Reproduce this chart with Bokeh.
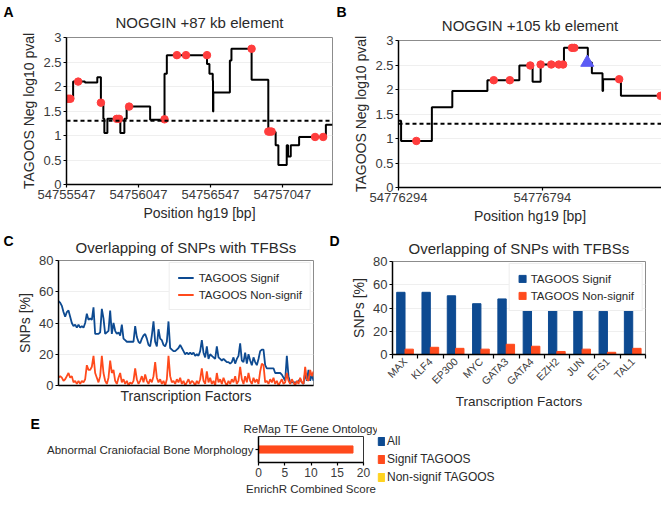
import math
from bokeh.plotting import figure
from bokeh.models import (Range1d, FixedTicker, Title, Legend, Span, CustomJSTickFormatter)
from bokeh.core.properties import value
from bokeh.layouts import column, row
from bokeh.embed import file_html
from bokeh.resources import INLINE

FONT = "Liberation Sans"
BLUE = "#0d4a91"
RED = "#ff4a1c"
YELLOW = "#ffd320"
DOT = "#ff3d3d"
TRI = "#5c5cf5"

# ---------------- Panel A data ----------------
a_step_x = [54755547, 54755593, 54755675, 54755761, 54755786, 54755803, 54755810, 54755831,
            54755921, 54755949, 54755965, 54756128, 54756228, 54756244, 54756523, 54756540,
            54756563, 54756565, 54756567, 54756682, 54756693, 54756833, 54756949, 54757000,
            54757019, 54757077, 54757086, 54757105, 54757163, 54757349, 54757395]
a_step_y = [1.75, 2.10, 2.08, 2.19, 1.67, 1.34, 1.05, 1.34, 1.05, 1.34, 1.59, 1.32, 2.26, 2.64,
            2.46, 2.26, 2.12, 1.49, 1.88, 2.53, 2.77, 2.14, 1.07, 0.80, 0.40, 0.80, 0.57, 0.80,
            0.97, 1.22, 1.22]
a_dot_x = [54755550, 54755562, 54755574, 54755628, 54755786, 54755896, 54755912, 54755982,
           54756228, 54756314, 54756377, 54756523, 54756833, 54756949, 54756960, 54756972,
           54757274, 54757330]
a_dot_y = [1.75, 1.75, 1.75, 2.10, 1.67, 1.34, 1.34, 1.59, 1.33, 2.64, 2.64, 2.64, 2.77,
           1.08, 1.08, 1.08, 0.97, 0.97]
a_ticks = [54755547, 54756047, 54756547, 54757047]
a_xlim = [54755547, 54757395]

# ---------------- Panel B data ----------------
b_step_x = [54776294, 54776303, 54776410, 54776481, 54776603, 54776714, 54776760, 54776788,
            54776869, 54776952, 54776966, 54777003, 54777005, 54777067, 54777208]
b_step_y = [1.36, 0.95, 1.64, 1.97, 2.19, 2.49, 2.16, 2.51, 2.85, 2.55, 2.33, 1.97, 2.21,
            1.87, 1.87]
b_dot_x = [54776356, 54776625, 54776681, 54776752, 54776788, 54776825, 54776851, 54776866,
           54776897, 54776905, 54777061, 54777205]
b_dot_y = [0.95, 2.19, 2.19, 2.49, 2.51, 2.51, 2.51, 2.51, 2.85, 2.85, 2.21, 1.87]
b_tri_x = [54776950]
b_tri_y = [2.55]
b_ticks = [54776294, 54776794]
b_xlim = [54776294, 54777208]

threshold = 1.3
pval_ticks = [0, 0.5, 1, 1.5, 2, 2.5, 3]

# ---------------- Panel C data ----------------
c_signif = [54, 53, 51, 47, 44, 47, 48, 44, 40, 38, 39, 37, 39, 37, 38, 37, 40, 46, 42, 43,
            42, 50, 33, 33, 33, 34, 49, 43, 33, 34, 35, 48, 33, 40, 35, 33, 34, 32, 39, 30,
            29, 28, 28, 28, 28, 28, 38, 31, 28, 27, 30, 32, 33, 30, 26, 25, 32, 41, 28, 25,
            36, 30, 29, 26, 25, 28, 41, 24, 23, 22, 22, 23, 24, 26, 24, 22, 20, 21, 20, 21,
            20, 21, 19, 20, 19, 22, 29, 21, 18, 25, 17, 20, 19, 18, 17, 25, 18, 17, 16, 17,
            16, 15, 15, 14, 15, 18, 14, 17, 19, 27, 16, 15, 21, 14, 20, 16, 13, 18, 15, 13,
            17, 22, 23, 23, 13, 11, 11, 11, 11, 11, 8, 8, 8, 8, 7, 5, 3, 19, 6, 2,
            2, 2, 2, 2, 3, 4, 2, 1, 8, 3, 10, 3, 7, 3]
c_nonsignif = [5, 6, 5, 3, 4, 6, 8, 5, 6, 2, 3, 1, 3, 1, 3, 2, 4, 13, 10, 10,
               12, 19, 8, 5, 2, 6, 19, 8, 3, 1, 5, 16, 8, 10, 3, 1, 5, 8, 2, 4,
               1, 3, 0, 2, 1, 3, 11, 4, 1, 3, 6, 2, 7, 3, 1, 4, 2, 6, 15, 5,
               2, 4, 1, 3, 0, 4, 19, 6, 2, 3, 1, 4, 2, 5, 1, 3, 0, 2, 4, 1,
               3, 2, 0, 3, 1, 4, 11, 3, 1, 9, 2, 5, 1, 3, 0, 8, 2, 4, 1, 5,
               2, 0, 3, 1, 4, 2, 6, 1, 3, 12, 4, 1, 6, 2, 8, 3, 1, 5, 2, 4,
               1, 9, 14, 13, 2, 3, 1, 4, 2, 5, 1, 3, 0, 2, 4, 1, 2, 8, 3, 1,
               4, 2, 0, 3, 1, 5, 2, 1, 12, 4, 3, 10, 6, 9]

# ---------------- Panel D data ----------------
d_tfs = ["MAX", "KLF4", "EP300", "MYC", "GATA3", "GATA4", "EZH2", "JUN", "ETS1", "TAL1"]
d_signif = [53.5, 53.5, 50.5, 43.7, 47.8, 43.7, 38.3, 39.7, 37.1, 39.7]
d_nonsignif = [4.6, 6.2, 5.3, 4.6, 8.8, 7.1, 2.6, 4.6, 1.9, 5.3]
snp_ticks = [0, 20, 40, 60, 80]

# ---------------- Panel E data ----------------
e_term = "Abnormal Craniofacial Bone Morphology"
e_series = ["All", "Signif TAGOOS", "Non-signif TAGOOS"]
e_all = [0.0]
e_signif = [18.0]
e_nonsignif = [0.0]
e_ticks = [0, 5, 10, 15, 20]

panel_letters = ["A", "B", "C", "D", "E"]

COMMON = dict(output_backend="svg", toolbar_location=None, title=None, frame_align=False)


def style(p):
    p.outline_line_color = "#8c8c8c"
    p.outline_line_width = 1
    p.background_fill_color = "white"
    p.border_fill_color = "white"
    for ax in p.axis:
        ax.axis_line_color = "black"
        ax.axis_line_width = 1.5
        ax.major_tick_line_color = "black"
        ax.major_tick_line_width = 1.2
        ax.major_tick_out = 3
        ax.major_tick_in = 0
        ax.minor_tick_line_color = None
        ax.major_label_text_font = FONT
        ax.major_label_text_font_size = "13px"
        ax.major_label_text_color = "#3a3a3a"
        ax.axis_label_text_font = FONT
        ax.axis_label_text_font_size = "14px"
        ax.axis_label_text_font_style = "normal"
        ax.axis_label_text_color = "#2a2a2a"
        ax.major_label_standoff = 2
        ax.axis_label_standoff = 3
    p.xgrid.grid_line_color = None
    p.ygrid.grid_line_color = "#efefef"


def add_title(p, text, standoff, size="15px"):
    t = Title(text=text, align="center", text_font=FONT, text_font_size=size,
              text_font_style="normal", text_color="#2a2a2a", standoff=standoff)
    p.add_layout(t, "above")


def blank_fig(w, h):
    f = figure(width=w, height=h, x_range=Range1d(0, w), y_range=Range1d(0, h),
               x_axis_location=None, y_axis_location=None,
               min_border=0, min_border_left=0, min_border_right=0,
               min_border_top=0, min_border_bottom=0, **COMMON)
    f.outline_line_color = None
    f.xgrid.visible = False
    f.ygrid.visible = False
    return f


def letter_fig(letter, w, h, x, top):
    f = blank_fig(w, h)
    f.text(x=[x], y=[h - top], text=[letter], text_font=value(FONT),
           text_font_size="14px", text_font_style="bold", text_color="black",
           text_baseline="top", text_align="left")
    return f


def pval_panel(bl, br, bt, bb, fw, xlim, ticks, title):
    p = figure(frame_width=fw, frame_height=147, x_range=Range1d(*xlim), y_range=Range1d(0, 3),
               min_border_left=bl, min_border_right=br, min_border_top=bt, min_border_bottom=bb,
               **COMMON)
    style(p)
    add_title(p, title, 14)
    p.xaxis.ticker = FixedTicker(ticks=ticks)
    p.xaxis.formatter = CustomJSTickFormatter(code="return tick.toFixed(0)")
    p.yaxis.ticker = FixedTicker(ticks=pval_ticks)
    p.yaxis.formatter = CustomJSTickFormatter(code="return String(Number(tick.toFixed(2)))")
    p.xaxis.axis_label = "Position hg19 [bp]"
    p.yaxis.axis_label = "TAGOOS Neg log10 pval"
    p.add_layout(Span(location=threshold, dimension="width", line_color="black",
                      line_width=2, line_dash="4 3"))
    return p


# ---------------- Row 1 ----------------
H1 = 227
lA = letter_fig(panel_letters[0], 18, H1, 3, 3)
pA = pval_panel(47, 3, 37, 43, 266, a_xlim, a_ticks, "NOGGIN +87 kb element")
pA.step(a_step_x, a_step_y, mode="after", line_color="black", line_width=2)
pA.scatter(a_dot_x, a_dot_y, size=7.5, color=DOT)

lB = letter_fig(panel_letters[1], 15, H1, 1, 3)
pB = pval_panel(44, 2, 40, 40, 263, b_xlim, b_ticks, "NOGGIN +105 kb element")
pB.step(b_step_x, b_step_y, mode="after", line_color="black", line_width=2)
pB.scatter(b_dot_x, b_dot_y, size=7.5, color=DOT)
pB.scatter(b_tri_x, b_tri_y, marker="triangle", size=13, color=TRI)

# ---------------- Row 2 ----------------
H2 = 186
lC = letter_fig(panel_letters[2], 14, H2, 3, 5)
nC = max(len(c_signif), len(c_nonsignif))
pC = figure(frame_width=255, frame_height=125, x_range=Range1d(0, nC - 1), y_range=Range1d(0, 80),
            min_border_left=44, min_border_right=15, min_border_top=33, min_border_bottom=28,
            **COMMON)
style(pC)
add_title(pC, "Overlapping of SNPs with TFBSs", 10)
pC.xaxis.ticker = FixedTicker(ticks=[])
pC.xaxis.axis_label = "Transcription Factors"
pC.xaxis.axis_label_standoff = 2
pC.yaxis.ticker = FixedTicker(ticks=snp_ticks)
pC.yaxis.axis_label = "SNPs [%]"
lb = pC.line(list(range(len(c_signif))), c_signif, line_color=BLUE, line_width=1.8)
lr = pC.line(list(range(len(c_nonsignif))), c_nonsignif, line_color=RED, line_width=1.8)
legC = Legend(items=[("TAGOOS Signif", [lb]), ("TAGOOS Non-signif", [lr])],
              location="top_right", margin=2, padding=8, spacing=4,
              glyph_width=16, glyph_height=13, label_height=13, label_standoff=5,
              label_text_font=FONT, label_text_font_size="11.5px", label_text_color="#2a2a2a",
              border_line_color="#dcdcdc", background_fill_alpha=1)
pC.add_layout(legC)

lD = letter_fig(panel_letters[3], 14, H2, 1, 5)
centers = list(range(1, len(d_tfs) + 1))
pD = figure(frame_width=253, frame_height=93, x_range=Range1d(0.5, len(d_tfs) + 0.5),
            y_range=Range1d(0, 80),
            min_border_left=50, min_border_right=13, min_border_top=34, min_border_bottom=56,
            **COMMON)
style(pD)
add_title(pD, "Overlapping of SNPs with TFBSs", 10)
rb = pD.vbar(x=[c - 0.17 for c in centers], top=d_signif, width=0.33, color=BLUE)
ro = pD.vbar(x=[c + 0.16 for c in centers], top=d_nonsignif, width=0.33, color=RED)
pD.xaxis.ticker = FixedTicker(ticks=centers,
                              minor_ticks=[c - 0.5 for c in centers] + [len(d_tfs) + 0.5])
pD.xaxis.formatter = CustomJSTickFormatter(args=dict(labels=d_tfs),
                                           code="return labels[Math.round(tick) - 1] || ''")
pD.xaxis.major_tick_out = 0
pD.xaxis.minor_tick_line_color = "black"
pD.xaxis.minor_tick_line_width = 1.2
pD.xaxis.minor_tick_out = 4
pD.xaxis.minor_tick_in = 0
pD.xaxis.major_label_standoff = 1
pD.xaxis.major_label_orientation = math.pi / 4
pD.xaxis.major_label_text_font_size = "10.5px"
pD.xaxis.axis_label = "Transcription Factors"
pD.xaxis.axis_label_text_font_size = "13.5px"
pD.xaxis.axis_label_standoff = 0
pD.yaxis.ticker = FixedTicker(ticks=snp_ticks)
pD.yaxis.axis_label = "SNPs [%]"
legD = Legend(items=[("TAGOOS Signif", [rb]), ("TAGOOS Non-signif", [ro])],
              location="top_right", margin=2, padding=8, spacing=4,
              glyph_width=9, glyph_height=9, label_height=13, label_standoff=4,
              label_text_font=FONT, label_text_font_size="11.5px", label_text_color="#2a2a2a",
              border_line_color="#dcdcdc", background_fill_alpha=1)
pD.add_layout(legD)

# ---------------- Row 3 ----------------
H3 = 84
lE = letter_fig(panel_letters[4], 40, H3, 30, 2)
pE = figure(frame_width=105, frame_height=26, x_range=Range1d(0, 20), y_range=Range1d(0, 2),
            min_border_left=218, min_border_right=14, min_border_top=23, min_border_bottom=35,
            **COMMON)
style(pE)
pE.outline_line_color = "#333333"
pE.ygrid.grid_line_color = None
add_title(pE, "ReMap TF Gene Ontology", 4, size="11.5px")
pE.hbar(y=[1.55], right=e_all, left=0, height=0.55, color=BLUE)
pE.hbar(y=[1.0], right=e_signif, left=0, height=0.55, color=RED)
pE.hbar(y=[0.45], right=e_nonsignif, left=0, height=0.55, color=YELLOW)
pE.xaxis.ticker = FixedTicker(ticks=e_ticks)
pE.xaxis.axis_label = "EnrichR Combined Score"
pE.xaxis.axis_label_text_font_size = "11.5px"
pE.xaxis.major_label_text_font_size = "12px"
pE.xaxis.axis_label_standoff = 3
pE.yaxis.ticker = FixedTicker(ticks=[1])
pE.yaxis.formatter = CustomJSTickFormatter(args=dict(term=e_term), code="return term")
pE.yaxis.major_label_text_font_size = "11.5px"
pE.yaxis.major_label_text_color = "#2a2a2a"

# legend for E in its own small canvas to the right of the panel
# (the keyed renderers sit below the visible range; only their legend swatches show)
fL = blank_fig(140, H3)
la = fL.hbar(y=[-50], right=[1], left=[0], height=1, color=BLUE)
ls = fL.hbar(y=[-50], right=[1], left=[0], height=1, color=RED)
ln = fL.hbar(y=[-50], right=[1], left=[0], height=1, color=YELLOW)
legE = Legend(items=[(e_series[0], [la]), (e_series[1], [ls]), (e_series[2], [ln])],
              location=(0, 12), margin=0, padding=0, spacing=2,
              glyph_width=8, glyph_height=10, label_height=16, label_standoff=2,
              label_text_font=FONT, label_text_font_size="12px", label_text_color="#2a2a2a",
              border_line_color=None, background_fill_alpha=0)
fL.add_layout(legE)

layout = column(row(lA, pA, lB, pB), row(lC, pC, lD, pD), row(lE, pE, fL))
open("out.html", "w").write(file_html(layout, INLINE))
